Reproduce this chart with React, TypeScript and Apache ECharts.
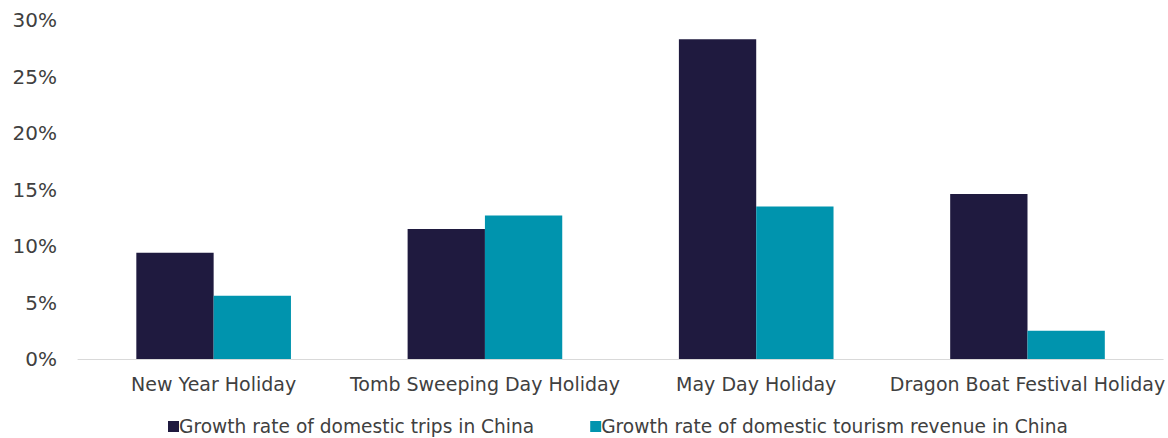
import React, { useEffect, useRef } from "react";
import * as echarts from "echarts";

const categories = [
  "New Year Holiday",
  "Tomb Sweeping Day Holiday",
  "May Day Holiday",
  "Dragon Boat Festival Holiday",
];
const tripsGrowth = [9.4, 11.5, 28.3, 14.6];
const revenueGrowth = [5.6, 12.7, 13.5, 2.5];
const seriesNames = [
  "Growth rate of domestic trips in China",
  "Growth rate of domestic tourism revenue in China",
];

export default function App() {
  const ref = useRef<HTMLDivElement>(null);
  useEffect(() => {
    if (!ref.current) return;
    const chart = echarts.init(ref.current, undefined, { renderer: "svg" });
    const font = "'DejaVu Sans', sans-serif";
    chart.setOption({
      animation: false,
      textStyle: { fontFamily: font },
      grid: { left: 78, right: 3, top: 20, bottom: 79, containLabel: false },
      legend: {
        top: 415,
        left: 163,
        padding: [2, 5, 2, 5],
        itemWidth: 11,
        itemHeight: 11,
        itemGap: 56,
        icon: "rect",
        textStyle: { fontSize: 18.6, color: "#404040", fontFamily: font, padding: [0, 0, 0, -5] },
        data: seriesNames,
      },
      xAxis: {
        type: "category",
        data: categories,
        axisLine: { lineStyle: { color: "#d9d9d9", width: 1 } },
        axisTick: { show: false },
        axisLabel: { fontSize: 19, color: "#404040", margin: 15, fontFamily: font, interval: 0 },
      },
      yAxis: {
        type: "value",
        min: 0,
        max: 30,
        interval: 5,
        splitLine: { show: false },
        axisLine: { show: false },
        axisTick: { show: false },
        axisLabel: { fontSize: 20, color: "#404040", margin: 21, formatter: "{value}%", fontFamily: font },
      },
      series: [
        {
          name: seriesNames[0],
          type: "bar",
          data: tripsGrowth,
          barWidth: "28.5%",
          barGap: "0%",
          itemStyle: { color: "#1f1a3f" },
        },
        {
          name: seriesNames[1],
          type: "bar",
          data: revenueGrowth,
          barWidth: "28.5%",
          barGap: "0%",
          itemStyle: { color: "#0094ae" },
        },
      ],
    });
    return () => chart.dispose();
  }, []);
  return <div ref={ref} style={{ width: 1168, height: 438, position: "absolute", left: 0, top: 0 }} />;
}
